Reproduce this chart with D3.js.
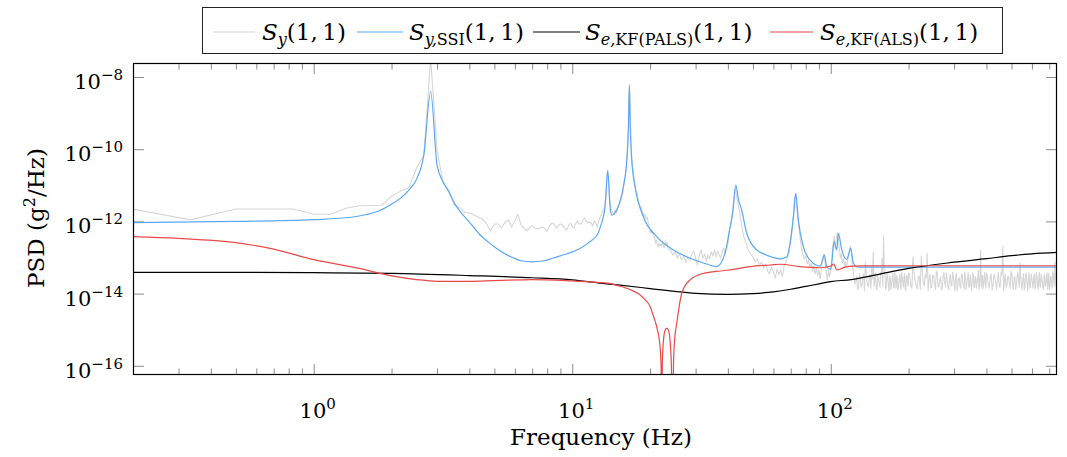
<!DOCTYPE html>
<html>
<head>
<meta charset="utf-8">
<script src="https://cdn.jsdelivr.net/npm/d3@7"></script>
<style>
  body { margin: 0; background: #fff; }
  text { font-family: "DejaVu Serif", serif; fill: #000; }
</style>
</head>
<body>
<svg id="chart" width="1067" height="457"></svg>
<script>
// ---- axis limits and ticks ----
const freqRange = [0.2, 750];
const psdRange = [5.56e-17, 2.44e-8];
const xMajorTicks = [1, 10, 100];
const xMajorExp = ["0", "1", "2"];
const xMinorTicks = [0.3, 0.4, 0.5, 0.6, 0.7, 0.8, 0.9, 2, 3, 4, 5, 6, 7, 8, 9,
  20, 30, 40, 50, 60, 70, 80, 90, 200, 300, 400, 500, 600, 700];
const yMajorTicks = [1e-16, 1e-14, 1e-12, 1e-10, 1e-8];
const yMajorExp = ["\u221216", "\u221214", "\u221212", "\u221210", "\u22128"];

// ---- S_y(1,1): measured output PSD, [Hz, g^2/Hz] ----
const syLow = [
  [0.1667, 2.8e-12], [0.3333, 1.1e-12], [0.5, 2.2e-12], [0.6667, 2.2e-12], [0.8333, 2.2e-12],
  [1.0, 1.58e-12], [1.1667, 1.58e-12], [1.3333, 2.3e-12], [1.5, 2.7e-12], [1.6667, 2.75e-12],
  [1.8333, 2.8e-12], [2.0, 5.0e-12], [2.1667, 6.9e-12], [2.3333, 8.5e-12], [2.5, 3.0e-11],
  [2.6667, 6.9e-11], [2.8333, 3.2e-8], [3.0, 9.5e-11], [3.1667, 1.15e-11], [3.3333, 7.4e-12],
  [3.5, 2.8e-12], [3.6667, 2.4e-12], [3.8333, 1.8e-12]
];
const syBand1 = [
  [4.0, 1.71e-12], [4.1667, 1.5e-12], [4.3333, 1.32e-12], [4.5, 1.16e-12], [4.6667, 8.5e-13],
  [4.8333, 5.4e-13], [5.0, 8.5e-13], [5.1667, 8.5e-13], [5.3333, 6.6e-13], [5.5, 9.6e-13],
  [5.6667, 1.1e-12], [5.8333, 7.0e-13], [6.0, 1.03e-12], [6.1667, 1.6e-12], [6.3333, 8.0e-13],
  [6.5, 6.6e-13], [6.6667, 5.4e-13], [6.8333, 6.6e-13], [7.0, 7.5e-13], [7.1667, 6.6e-13],
  [7.3333, 6.2e-13], [7.5, 6.6e-13], [7.6667, 7.0e-13], [7.8333, 6.2e-13], [8.0, 5.4e-13],
  [8.1667, 7.5e-13], [8.3333, 9.0e-13], [8.5, 8.5e-13], [8.6667, 6.6e-13], [8.8333, 7.5e-13],
  [9.0, 8.5e-13], [9.1667, 8.0e-13], [9.3333, 6.6e-13], [9.5, 5.8e-13], [9.6667, 7.5e-13],
  [9.8333, 9.0e-13], [10.0, 7.0e-13], [10.1667, 6.6e-13], [10.3333, 9.0e-13], [10.5, 1.03e-12],
  [10.6667, 8.5e-13], [10.8333, 8.5e-13], [11.0, 1.1e-12], [11.1667, 1.24e-12], [11.3333, 1.03e-12],
  [11.5, 9.0e-13], [11.6667, 9.6e-13], [11.8333, 9.0e-13], [12.0, 7.5e-13], [12.1667, 1.03e-12],
  [12.3333, 9.0e-13], [12.5, 7.0e-13], [12.6667, 1.03e-12], [12.8333, 1.32e-12]
];
const syModes12 = [
  [13.0, 1.6e-12], [13.1667, 2.07e-12], [13.3333, 2.5e-12], [13.5, 5.4e-12], [13.6667, 2.3e-11],
  [13.8333, 1.23e-11], [14.0, 3.5e-12], [14.1667, 2.07e-12], [14.3333, 1.8e-12], [14.5, 1.6e-12],
  [14.6667, 2.07e-12], [14.8333, 1.71e-12], [15.0, 2.3e-12], [15.1667, 2.7e-12], [15.3333, 3.2e-12],
  [15.5, 4.5e-12], [15.6667, 6.2e-12], [15.8333, 9.6e-12], [16.0, 1.58e-11], [16.1667, 3.0e-11],
  [16.3333, 6.9e-11], [16.5, 3.9e-10], [16.6667, 6.0e-9], [16.8333, 1.8e-10], [17.0, 5.0e-11],
  [17.1667, 2.6e-11], [17.3333, 1.58e-11], [17.5, 9.6e-12], [17.6667, 6.5e-12], [17.8333, 6.2e-12],
  [18.0, 3.9e-12], [18.1667, 3.0e-12], [18.3333, 2.3e-12], [18.5, 2.7e-12], [18.6667, 1.8e-12],
  [18.8333, 1.6e-12], [19.0, 1.32e-12], [19.1667, 1.5e-12], [19.3333, 1.16e-12], [19.5, 1.32e-12],
  [19.6667, 9.6e-13], [19.8333, 7.5e-13], [20.0, 4.8e-13], [20.1667, 5.8e-13], [20.3333, 4.5e-13],
  [20.5, 5.4e-13], [20.6667, 3.9e-13], [20.8333, 3.5e-13], [21.0, 2.5e-13], [21.1667, 3.0e-13],
  [21.3333, 2.36e-13], [21.5, 1.95e-13], [21.6667, 2.5e-13], [21.8333, 2.1e-13], [22.0, 2.36e-13],
  [22.1667, 1.95e-13], [22.3333, 2.7e-13], [22.5, 2.2e-13], [22.6667, 1.83e-13], [22.8333, 2.36e-13],
  [23.0, 2.85e-13], [23.1667, 2.1e-13], [23.3333, 2.5e-13], [23.5, 1.72e-13]
];
const syBand2 = [
  [24.0, 1.62e-13], [24.5, 1.18e-13], [25.0, 1.42e-13], [25.5, 9.7e-14], [26.0, 1.25e-13],
  [26.5, 8.5e-14], [27.0, 1.1e-13], [27.5, 7.5e-14], [28.0, 1.03e-13], [28.5, 8.5e-14],
  [29.0, 1.25e-13], [29.5, 1.5e-13], [30.0, 9.7e-14], [30.5, 6.2e-14], [31.0, 1.1e-13],
  [31.5, 1.62e-13], [32.0, 9.7e-14], [32.5, 1.25e-13], [33.0, 8.0e-14], [33.5, 1.18e-13],
  [34.0, 9.1e-14], [34.5, 1.42e-13], [35.0, 1.1e-13], [35.5, 1.62e-13], [36.0, 1.03e-13],
  [36.5, 1.5e-13], [37.0, 1.25e-13], [37.5, 9.7e-14], [38.0, 1.42e-13], [38.5, 1.83e-13],
  [39.0, 1.33e-13], [39.5, 1.95e-13], [40.0, 2.36e-13], [40.5, 5.1e-13], [41.0, 7.5e-13],
  [41.5, 1.5e-12], [42.0, 3.2e-12], [42.5, 6.5e-12], [42.8333, 8.5e-12], [43.0, 6.2e-12],
  [43.5, 3.9e-12], [44.0, 2.5e-12], [44.5, 1.8e-12], [45.0, 9.6e-13], [45.5, 6.2e-13],
  [46.0, 3.9e-13], [47.0, 2.5e-13], [48, 1.62e-13], [49, 1.25e-13], [50, 1.03e-13],
  [51, 7.5e-14], [52, 9.1e-14], [53, 6.2e-14], [54, 7.5e-14], [55, 5.1e-14],
  [56, 6.6e-14], [57, 4.2e-14], [58, 3.5e-14], [59, 5.4e-14], [60, 4.0e-14],
  [61, 2.7e-14], [62, 4.8e-14], [63, 3.3e-14], [64, 4.5e-14], [65, 2.9e-14],
  [66, 5.8e-14], [67, 7.5e-14], [68, 9.7e-14], [69, 1.42e-13], [70, 3.0e-13],
  [71, 6.6e-13], [72, 2.07e-12], [72.5, 3.9e-12], [73, 5.0e-12], [73.5, 3.9e-12],
  [74, 2.2e-12], [75, 8.5e-13], [76, 3.9e-13], [77, 1.83e-13]
];
const syBand3 = [
  [78, 1.25e-13], [79, 9.1e-14], [80, 1.1e-13], [81, 6.6e-14], [82, 8.5e-14],
  [83, 5.4e-14], [84, 7.0e-14], [85, 4.2e-14], [86, 5.8e-14], [87, 3.5e-14],
  [88, 5.1e-14], [89, 3.1e-14], [90, 4.5e-14], [91, 2.55e-14], [92, 5.1e-14],
  [93, 7.5e-14], [94, 1.25e-13], [95, 7.5e-14], [96, 4.0e-14], [97, 2.4e-14],
  [98, 4.2e-14], [99, 2.9e-14], [100, 5.1e-14], [101, 9.7e-14], [102, 2.1e-13],
  [103, 3.9e-13], [104, 1.83e-13], [105, 3.0e-13], [106, 5.1e-13], [107, 3.4e-13],
  [108, 1.62e-13], [109, 9.7e-14], [110, 1.25e-13], [111, 7.0e-14], [112, 9.1e-14],
  [113, 5.8e-14], [114, 7.5e-14], [115, 5.1e-14], [116, 7.5e-14], [117, 1.1e-13],
  [118, 1.62e-13], [119, 2.1e-13], [120, 1.42e-13], [121, 7.5e-14], [122, 4.5e-14],
  [123, 2.7e-14]
];
const syBand4 = [
  [124, 1.84e-14], [126, 3.07e-14], [128, 1.43e-14], [130, 2.54e-14], [132, 1.73e-14],
  [134, 3.49e-14], [136, 7.5e-14], [138, 2.23e-14], [140, 1.52e-14], [142, 3.07e-14],
  [144, 5.81e-14], [146, 1.42e-13], [148, 2.54e-14], [150, 1.34e-14], [152, 3.27e-14],
  [154, 1.97e-14], [156, 3.97e-14], [158, 9.7e-14], [160, 3.94e-13], [162, 4.5e-14],
  [164, 1.62e-14], [166, 2.88e-14], [168, 1.18e-14], [170, 2.54e-14], [172, 1.84e-14],
  [174, 3.72e-14], [176, 1.43e-14], [178, 2.38e-14], [180, 3.27e-14], [182, 1.26e-14],
  [184, 2.7e-14], [186, 1.84e-14], [188, 3.97e-14], [190, 1.97e-14], [192, 2.88e-14],
  [194, 1.34e-14], [196, 3.07e-14], [198, 2.1e-14], [200, 3.72e-14]
];
const syBand4b = [
  [125, 2.2e-14], [127, 1.3e-14], [129, 3.6e-14], [131, 1.5e-14], [133, 2.9e-14],
  [135, 1.2e-14], [137, 4.1e-14], [139, 1.7e-14], [141, 3.3e-14], [143, 1.4e-14],
  [145, 2.6e-14], [147, 1.6e-14], [149, 3.8e-14], [151, 1.3e-14], [153, 2.4e-14],
  [155, 1.5e-14], [157, 3.4e-14], [159, 1.6e-14], [161, 5.5e-14], [163, 1.3e-14],
  [165, 3.6e-14], [167, 1.7e-14], [169, 3.1e-14], [171, 1.3e-14], [173, 2.6e-14],
  [175, 1.5e-14], [177, 3.9e-14], [179, 1.4e-14], [181, 2.3e-14], [183, 1.6e-14],
  [185, 3.5e-14], [187, 1.3e-14], [189, 2.8e-14], [191, 1.5e-14], [193, 3.7e-14],
  [195, 1.2e-14], [197, 3.2e-14], [199, 1.6e-14]
];
const syBand5 = [
  [204, 1.62e-14], [208, 1.03e-13], [212, 2.23e-14], [216, 1.34e-14], [220, 3.07e-14],
  [224, 1.1e-13], [228, 1.97e-14], [232, 3.49e-14], [236, 1.33e-13], [240, 2.54e-14],
  [244, 1.43e-14], [248, 3.27e-14], [252, 1.84e-14], [256, 4.23e-14], [260, 1.52e-14],
  [264, 2.38e-14], [268, 1.26e-14], [272, 3.07e-14], [276, 1.97e-14], [280, 3.72e-14],
  [284, 1.43e-14], [288, 2.54e-14], [292, 1.73e-14], [296, 3.97e-14], [300, 1.84e-14],
  [304, 2.88e-14], [308, 1.18e-14], [312, 2.54e-14], [316, 1.62e-14], [320, 3.49e-14],
  [324, 2.1e-14], [328, 1.34e-14], [332, 2.88e-14], [336, 1.84e-14], [340, 3.97e-14],
  [344, 1.52e-14], [348, 2.54e-14], [352, 1.73e-14], [356, 3.27e-14], [360, 1.43e-14],
  [364, 2.7e-14], [368, 1.97e-14], [372, 4.5e-14], [376, 1.62e-14], [380, 1.61e-13],
  [384, 2.23e-14], [388, 1.34e-14], [392, 3.07e-14], [396, 1.84e-14], [400, 3.72e-14]
];
const syBand5b = [
  [202, 3.3e-14], [206, 1.4e-14], [210, 3.8e-14], [214, 1.7e-14], [218, 2.9e-14],
  [222, 1.3e-14], [226, 4.0e-14], [230, 1.6e-14], [234, 2.7e-14], [238, 1.2e-14],
  [242, 3.5e-14], [246, 1.5e-14], [250, 3.1e-14], [254, 1.3e-14], [258, 3.6e-14],
  [262, 1.6e-14], [266, 2.9e-14], [270, 1.4e-14], [274, 3.9e-14], [278, 1.5e-14],
  [282, 2.6e-14], [286, 1.3e-14], [290, 3.4e-14], [294, 1.6e-14], [298, 3.0e-14],
  [302, 1.2e-14], [306, 3.7e-14], [310, 1.5e-14], [314, 2.8e-14], [318, 1.4e-14],
  [322, 3.5e-14], [326, 1.7e-14], [330, 4.1e-14], [334, 1.3e-14], [338, 2.6e-14],
  [342, 1.5e-14], [346, 3.3e-14], [350, 1.2e-14], [354, 3.8e-14], [358, 1.6e-14],
  [362, 3.0e-14], [366, 1.4e-14], [370, 2.7e-14], [374, 1.3e-14], [378, 3.6e-14],
  [382, 1.5e-14], [386, 3.2e-14], [390, 1.6e-14], [394, 3.9e-14], [398, 1.4e-14]
];
const syBand6 = [
  [407, 1.73e-14], [414, 2.88e-14], [421, 1.26e-14], [428, 3.49e-14], [435, 1.97e-14],
  [442, 2.54e-14], [449, 1.52e-14], [456, 3.97e-14], [463, 2.08e-13], [470, 2.23e-14],
  [477, 1.43e-14], [484, 3.07e-14], [491, 1.84e-14], [498, 4.23e-14], [505, 1.62e-14],
  [512, 2.7e-14], [519, 1.34e-14], [526, 3.27e-14], [533, 2.1e-14], [540, 7.04e-14],
  [547, 1.73e-14], [554, 2.88e-14], [561, 1.26e-14], [568, 3.72e-14], [575, 1.84e-14],
  [582, 2.54e-14], [589, 1.43e-14], [596, 3.49e-14], [603, 1.97e-14], [610, 3.07e-14],
  [617, 1.34e-14], [624, 3.97e-14], [631, 1.73e-14], [638, 2.7e-14], [645, 1.52e-14],
  [652, 3.49e-14], [659, 2.1e-14], [666, 1.34e-14], [673, 2.88e-14], [680, 1.73e-14],
  [687, 3.72e-14], [694, 1.97e-14], [701, 1.26e-14], [708, 3.07e-14], [715, 1.84e-14],
  [722, 4.23e-14], [729, 2.23e-14], [736, 7.5e-14], [743, 1.97e-14], [750, 1.61e-13]
];
const syBand6b = [
  [403, 3.1e-14], [410, 1.4e-14], [417, 3.6e-14], [424, 1.6e-14], [431, 2.8e-14],
  [438, 1.3e-14], [445, 3.9e-14], [452, 1.5e-14], [459, 3.3e-14], [466, 1.2e-14],
  [473, 3.5e-14], [480, 1.7e-14], [487, 2.9e-14], [494, 1.4e-14], [501, 3.7e-14],
  [508, 1.3e-14], [515, 3.0e-14], [522, 1.6e-14], [529, 4.0e-14], [536, 1.5e-14],
  [543, 2.7e-14], [550, 1.3e-14], [557, 3.6e-14], [564, 1.6e-14], [571, 3.2e-14],
  [578, 1.2e-14], [585, 3.8e-14], [592, 1.5e-14], [599, 2.8e-14], [606, 1.4e-14],
  [613, 3.5e-14], [620, 1.7e-14], [627, 3.0e-14], [634, 1.3e-14], [641, 3.9e-14],
  [648, 1.5e-14], [655, 2.7e-14], [662, 1.4e-14], [669, 3.4e-14], [676, 1.6e-14],
  [683, 3.1e-14], [690, 1.3e-14], [697, 3.7e-14], [704, 1.5e-14], [711, 2.9e-14],
  [718, 1.4e-14], [725, 3.6e-14], [732, 1.6e-14], [739, 3.2e-14], [746, 1.5e-14]
];

// ---- S_y,SSI(1,1): identified model PSD ----
const sySsi = [
  [0.2, 9.3e-13], [0.5, 1.0e-12], [1.0, 1.12e-12], [1.4, 1.3e-12], [1.6, 1.55e-12],
  [1.8, 2.0e-12], [2.0, 3.0e-12], [2.1667, 4.4e-12], [2.3333, 7.4e-12], [2.5, 1.48e-11],
  [2.6667, 6.9e-11], [2.8333, 3.9e-9], [3.0, 3.6e-11], [3.1667, 1.23e-11], [3.3333, 6.5e-12],
  [3.5, 3.2e-12], [3.78, 1.51e-12], [4.0, 9.6e-13], [4.4, 4.2e-13], [4.7, 2.8e-13],
  [5.1, 1.78e-13], [5.9, 9.8e-14], [6.4, 8.0e-14], [7.0, 7.6e-14], [7.7, 8.0e-14],
  [8.4, 9.5e-14], [9.2, 1.17e-13], [10.1, 1.45e-13], [11.7, 2.75e-13], [12.6, 4.7e-13],
  [12.82, 6.8e-13], [13.4, 2.6e-12], [13.72, 2.6e-11], [14.0, 2.6e-12], [14.22, 1.5e-12],
  [14.87, 2.1e-12], [15.76, 9.1e-12], [16.26, 5.0e-11], [16.5, 4.7e-10], [16.63, 6.0e-9],
  [16.76, 4.7e-10], [16.99, 5.0e-11], [17.5, 9.1e-12], [18.84, 1.35e-12], [21.22, 3.8e-13],
  [24.62, 1.62e-13], [28.56, 9.5e-14], [33.14, 6.6e-14], [36.2, 5.6e-14], [39.0, 1.32e-13],
  [40.8, 7.1e-13], [41.8, 1.8e-12], [42.9, 1.02e-11], [44.0, 3.9e-12], [45.2, 2.1e-12],
  [47.3, 4.7e-13], [51.8, 1.6e-13], [55, 1.26e-13], [60, 1.0e-13], [63.7, 9.1e-14],
  [67.6, 1.05e-13], [69.6, 2.45e-13], [71.7, 1.35e-12], [73.2, 6.0e-12], [74.9, 1.1e-12],
  [78.3, 2.0e-13], [83.2, 8.5e-14], [90.9, 5.8e-14], [94.5, 1.17e-13], [96.5, 5.4e-14],
  [100.1, 4.7e-14], [103.0, 2.75e-13], [105.5, 1.62e-13], [107.0, 4.7e-13], [110.3, 1.62e-13],
  [115.3, 8.9e-14], [119.5, 1.78e-13], [122.3, 6.9e-14], [127.5, 5.4e-14], [200, 5.4e-14],
  [750, 5.4e-14]
];

// ---- S_e,KF(PALS)(1,1): innovation PSD, PALS-tuned filter ----
const sePals = [
  [0.2, 3.89e-14], [0.5, 3.89e-14], [1, 3.8e-14], [2, 3.63e-14], [4, 3.16e-14],
  [7, 2.75e-14], [10, 2.4e-14], [12.8, 1.95e-14], [15, 1.74e-14], [20, 1.38e-14],
  [25, 1.15e-14], [30, 1.02e-14], [40, 9.5e-15], [50, 1.0e-14], [60, 1.12e-14],
  [70, 1.32e-14], [80, 1.58e-14], [90, 1.86e-14], [100, 2.14e-14], [120, 2.45e-14],
  [150, 3.31e-14], [200, 5.0e-14], [300, 7.4e-14], [400, 9.3e-14], [500, 1.12e-13],
  [600, 1.26e-13], [750, 1.38e-13]
];

// ---- S_e,KF(ALS)(1,1): innovation PSD, ALS-tuned filter ----
const seAls = [
  [0.2, 3.8e-13], [0.3, 3.39e-13], [0.5, 2.57e-13], [0.7, 1.7e-13], [1.0, 8.7e-14],
  [1.5, 5.0e-14], [2.0, 3.1e-14], [2.5, 2.45e-14], [3.0, 2.19e-14], [4.0, 2.19e-14],
  [5.0, 2.29e-14], [7.0, 2.45e-14], [10, 2.24e-14], [12, 2.09e-14], [14, 1.91e-14],
  [15, 1.66e-14], [16, 1.45e-14], [17, 1.23e-14], [18, 1.0e-14], [19, 7.1e-15],
  [20, 4.4e-15], [20.6, 2.4e-15], [21.22, 1.2e-15], [21.86, 3.4e-16], [22.06, 1.05e-16],
  [22.16, 3e-18], [22.32, 1.45e-16], [22.52, 4.6e-16], [22.8, 9.1e-16], [23.2, 1.1e-15],
  [23.62, 9.1e-16], [23.92, 4.6e-16], [24.13, 1.66e-16], [24.48, 3e-18], [24.66, 1.45e-16],
  [24.88, 5.1e-16], [25.37, 1.5e-15], [26.52, 1.02e-14], [28.56, 2.4e-14], [32.06, 3.6e-14],
  [38.33, 4.3e-14], [42, 4.7e-14], [48.75, 5.6e-14], [58.3, 6.2e-14], [64, 6.5e-14],
  [76, 5.6e-14], [90.9, 5.2e-14], [100.1, 5.8e-14], [102.8, 6.6e-14], [105.5, 4.5e-14],
  [109.1, 4.8e-14], [113.6, 5.4e-14], [123, 5.8e-14], [200, 5.9e-14], [750, 5.9e-14]
];

const seriesStyle = [
  { name: "sy", color: "#d6d6d6" },
  { name: "ssi", color: "#5aa8f2" },
  { name: "pals", color: "#000000" },
  { name: "als", color: "#e84a4a" }
];

// ---- layout ----
const svg = d3.select("#chart");
const plot = { left: 133, right: 1057, top: 63, bottom: 375 };

const x = d3.scaleLog().domain(freqRange).range([plot.left, plot.right]);
const y = d3.scaleLog().domain(psdRange).range([plot.bottom, plot.top]);

svg.append("defs").append("clipPath").attr("id", "plotClip")
  .append("rect")
  .attr("x", plot.left).attr("y", plot.top)
  .attr("width", plot.right - plot.left).attr("height", plot.bottom - plot.top);

// ticks (drawn inward on all four sides)
const tickColor = "#8c8c8c";
function styleAxis(g) {
  g.select(".domain").remove();
  g.selectAll(".tick line").attr("stroke", tickColor).attr("stroke-width", 1);
  g.selectAll(".tick text").remove();
}
svg.append("g").attr("transform", `translate(0,${plot.bottom})`)
  .call(d3.axisBottom(x).tickValues(xMinorTicks).tickSize(-6.5)).call(styleAxis);
svg.append("g").attr("transform", `translate(0,${plot.bottom})`)
  .call(d3.axisBottom(x).tickValues(xMajorTicks).tickSize(-11)).call(styleAxis);
svg.append("g").attr("transform", `translate(0,${plot.top})`)
  .call(d3.axisTop(x).tickValues(xMinorTicks).tickSize(-6.5)).call(styleAxis);
svg.append("g").attr("transform", `translate(0,${plot.top})`)
  .call(d3.axisTop(x).tickValues(xMajorTicks).tickSize(-11)).call(styleAxis);
svg.append("g").attr("transform", `translate(${plot.left},0)`)
  .call(d3.axisLeft(y).tickValues(yMajorTicks).tickSize(-11)).call(styleAxis);
svg.append("g").attr("transform", `translate(${plot.right},0)`)
  .call(d3.axisRight(y).tickValues(yMajorTicks).tickSize(-11)).call(styleAxis);

// curves
const curves = svg.append("g").attr("clip-path", "url(#plotClip)");
const lineLinear = d3.line().x(d => x(d[0])).y(d => y(d[1]));
const lineSmooth = d3.line().x(d => x(d[0])).y(d => y(d[1])).curve(d3.curveMonotoneX);

const syAll = [].concat(syLow, syBand1, syModes12, syBand2, syBand3,
  syBand4, syBand4b, syBand5, syBand5b, syBand6, syBand6b)
  .sort((a, b) => a[0] - b[0]);
curves.append("path").datum(syAll)
  .attr("fill", "none").attr("stroke", seriesStyle[0].color).attr("stroke-width", 1.1)
  .attr("stroke-linejoin", "round").attr("d", lineLinear);
curves.append("path").datum(sySsi)
  .attr("fill", "none").attr("stroke", seriesStyle[1].color).attr("stroke-width", 1.2)
  .attr("d", lineSmooth);
curves.append("path").datum(sePals)
  .attr("fill", "none").attr("stroke", seriesStyle[2].color).attr("stroke-width", 1.2)
  .attr("d", lineSmooth);
curves.append("path").datum(seAls)
  .attr("fill", "none").attr("stroke", seriesStyle[3].color).attr("stroke-width", 1.2)
  .attr("d", lineSmooth);

// frame
svg.append("rect")
  .attr("x", plot.left + 0.5).attr("y", plot.top + 0.5)
  .attr("width", plot.right - plot.left - 1).attr("height", plot.bottom - plot.top - 1)
  .attr("fill", "none").attr("stroke", "#000").attr("stroke-width", 1.2);

// tick labels with powers of ten
xMajorTicks.forEach((v, i) => {
  const t = svg.append("text").attr("x", x(v) + 4).attr("y", 418)
    .attr("text-anchor", "middle").attr("font-size", 21);
  t.append("tspan").text("10");
  t.append("tspan").attr("dy", -9).attr("font-size", 15).text(xMajorExp[i]);
});
yMajorTicks.forEach((v, i) => {
  const t = svg.append("text").attr("x", 123).attr("y", y(v) + 12)
    .attr("text-anchor", "end").attr("font-size", 21);
  t.append("tspan").text("10");
  t.append("tspan").attr("dy", -9).attr("font-size", 15).text(yMajorExp[i]);
});

// axis titles
svg.append("text").attr("x", 601).attr("y", 445).attr("text-anchor", "middle")
  .attr("font-size", 23).text("Frequency (Hz)");
const yt = svg.append("text").attr("transform", "translate(44,218) rotate(-90)")
  .attr("text-anchor", "middle").attr("font-size", 23);
yt.append("tspan").text("PSD (g");
yt.append("tspan").attr("dy", -9).attr("font-size", 16).text("2");
yt.append("tspan").attr("dy", 9).text("/Hz)");

// legend
const legend = svg.append("g");
legend.append("rect").attr("x", 202.5).attr("y", 7.5).attr("width", 800).attr("height", 46)
  .attr("fill", "#fff").attr("stroke", "#222").attr("stroke-width", 1);
const legendEntries = [
  { x0: 213, x1: 255, tx: 262, sub: ["y", ""] },
  { x0: 357, x1: 403, tx: 409, sub: ["y,", "SSI"] },
  { x0: 533, x1: 580, tx: 585, sub: ["e,", "KF(PALS)"] },
  { x0: 770, x1: 813, tx: 820, sub: ["e,", "KF(ALS)"] }
];
legendEntries.forEach((e, i) => {
  legend.append("line").attr("x1", e.x0).attr("x2", e.x1).attr("y1", 32).attr("y2", 32)
    .attr("stroke", seriesStyle[i].color).attr("stroke-width", 1.2);
  const t = legend.append("text").attr("x", e.tx).attr("y", 40).attr("font-size", 23);
  t.append("tspan").attr("font-style", "italic").text("S");
  t.append("tspan").attr("font-style", "italic").attr("font-size", 16).attr("dy", 5).text(e.sub[0]);
  if (e.sub[1]) t.append("tspan").attr("font-size", 16).text(e.sub[1]);
  t.append("tspan").attr("dy", -5).text("(1,\u20091)");
});
</script>
</body>
</html>
